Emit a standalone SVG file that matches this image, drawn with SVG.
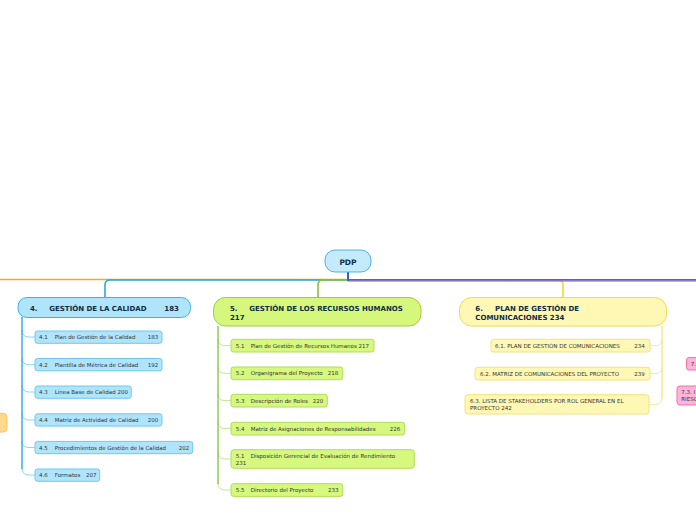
<svg xmlns="http://www.w3.org/2000/svg" width="696" height="520" viewBox="0 0 696 520">
<style>
text{font-family:"DejaVu Sans","Liberation Sans",sans-serif;}
.h{font-size:7px;font-weight:bold;fill:#0e2c48;}
.c{font-size:5.5px;fill:#333333;}
.b4{fill:#b0e4fa;stroke:#3db2ea;stroke-width:1;}
.b5{fill:#d4f77c;stroke:#9ccc40;stroke-width:1;}
.b6{fill:#fff7b4;stroke:#f0dc50;stroke-width:1;}
.c4{fill:#b0e4fa;stroke:#6cc8f2;stroke-width:1;}
.c5{fill:#d6f87e;stroke:#b0dc5a;stroke-width:1;}
.c6{fill:#fff7b4;stroke:#f5e27c;stroke-width:1;}
.pk{fill:#ffb4da;stroke:#f070b0;stroke-width:1;}
.ln{fill:none;stroke-linecap:round;}
</style>
<g id="connectors">
<path class="ln" d="M0,279.5 H348" stroke="#f5a623" stroke-width="1.6"/>
<path class="ln" d="M348,280 H110 Q105,280 105,285 V298" stroke="#29a8e0" stroke-width="1.6"/>
<path class="ln" d="M348,280 H323 Q318,280 318,285 V298" stroke="#86c440" stroke-width="1.6"/>
<path class="ln" d="M348,280 H558 Q563,280 563,285 V298" stroke="#f0d830" stroke-width="1.6"/>
<path class="ln" d="M348,280.8 H696" stroke="#8a4fc8" stroke-width="1.3"/>
<path class="ln" d="M348,279.6 H696" stroke="#2f6fe0" stroke-width="1.3"/>
<path class="ln" d="M348,272 V280" stroke="#2f5fd0" stroke-width="2"/>
<g stroke="#8fd6f5" stroke-width="1" fill="none">
<path d="M22,330 Q22,337 29,337 H35"/>
<path d="M22,358 Q22,364.7 29,364.7 H35"/>
<path d="M22,385 Q22,392 29,392 H35"/>
<path d="M22,413 Q22,420 29,420 H35"/>
<path d="M22,440.5 Q22,447.5 29,447.5 H35"/>
<path d="M22,468 Q22,475 29,475 H35"/>
</g>
<path d="M22,317 V469" stroke="#29aae1" stroke-width="1.4" fill="none"/>
<g stroke="#c4e894" stroke-width="1" fill="none">
<path d="M218,339 Q218,345.6 225,345.6 H231"/>
<path d="M218,367 Q218,373.3 225,373.3 H231"/>
<path d="M218,394 Q218,400.6 225,400.6 H231"/>
<path d="M218,422 Q218,428.6 225,428.6 H231"/>
<path d="M218,452 Q218,459 225,459 H231"/>
<path d="M218,483 Q218,490 225,490 H231"/>
</g>
<path d="M218,326 V484" stroke="#8cc640" stroke-width="1.4" fill="none"/>
<g stroke="#f8ea90" stroke-width="1" fill="none">
<path d="M662,339 Q662,345.6 656,345.6 H650"/>
<path d="M662,367 Q662,373.6 656,373.6 H650"/>
<path d="M662,397 Q662,404.3 656,404.3 H649"/>
</g>
<path d="M662,326 V398" stroke="#f5e36a" stroke-width="1.2" fill="none"/>
</g>
<g id="pdp">
<rect x="325" y="250" width="46" height="22" rx="10" fill="#c4ebfc" stroke="#4cb2e6" stroke-width="1"/>
<text x="348" y="264.5" text-anchor="middle" style="font-size:7.5px;font-weight:bold;fill:#0e2c48">PDP</text>
</g>
<g id="n4">
<rect class="b4" x="18" y="297.5" width="172.5" height="20" rx="9"/>
<text class="h" y="310.5"><tspan x="30">4.</tspan><tspan x="49.3">GESTIÓN DE LA CALIDAD</tspan><tspan x="164.3">183</tspan></text>
</g>
<g id="n5">
<rect class="b5" x="213.5" y="297.5" width="207.5" height="28.5" rx="12"/>
<text class="h" y="310.5"><tspan x="230">5.</tspan><tspan x="249.3">GESTIÓN DE LOS RECURSOS HUMANOS</tspan></text>
<text class="h" x="230" y="319.5">217</text>
</g>
<g id="n6">
<rect class="b6" x="459.5" y="297.5" width="207" height="28.5" rx="12"/>
<text class="h" y="310.5"><tspan x="475.3">6.</tspan><tspan x="495">PLAN DE GESTIÓN DE</tspan></text>
<text class="h" x="475.3" y="319.5">COMUNICACIONES 234</text>
</g>
<g id="n4-1"><rect class="c4" x="35" y="331" width="127" height="12.3" rx="2.5"/><text class="c" y="339"><tspan x="39">4.1</tspan><tspan x="54.7">Plan de Gestión de la Calidad</tspan><tspan x="147.7">183</tspan></text></g>
<g id="n4-2"><rect class="c4" x="35" y="358.5" width="127" height="12.3" rx="2.5"/><text class="c" y="366.6"><tspan x="39">4.2</tspan><tspan x="54.7">Plantilla de Métrica de Calidad</tspan><tspan x="147.7">192</tspan></text></g>
<g id="n4-3"><rect class="c4" x="35" y="386" width="96.3" height="12.3" rx="2.5"/><text class="c" y="394"><tspan x="39">4.3</tspan><tspan x="54.7">Línea Base de Calidad 200</tspan></text></g>
<g id="n4-4"><rect class="c4" x="35" y="413.8" width="127" height="12.3" rx="2.5"/><text class="c" y="421.9"><tspan x="39">4.4</tspan><tspan x="54.7">Matriz de Actividad de Calidad</tspan><tspan x="147.7">200</tspan></text></g>
<g id="n4-5"><rect class="c4" x="35" y="441.4" width="157.7" height="12.3" rx="2.5"/><text class="c" y="449.5"><tspan x="39">4.5</tspan><tspan x="54.7">Procedimientos de Gestión de la Calidad</tspan><tspan x="178.7">202</tspan></text></g>
<g id="n4-6"><rect class="c4" x="35" y="469" width="64.7" height="12.3" rx="2.5"/><text class="c" y="477.1"><tspan x="39">4.6</tspan><tspan x="54.7">Formatos</tspan><tspan x="86">207</tspan></text></g>
<g id="n5-1"><rect class="c5" x="231" y="339.3" width="143" height="12.7" rx="2.5"/><text class="c" y="347.6"><tspan x="235.7">5.1</tspan><tspan x="250.7">Plan de Gestión de Recursos Humanos 217</tspan></text></g>
<g id="n5-2"><rect class="c5" x="231" y="367" width="111.7" height="12.7" rx="2.5"/><text class="c" y="375.3"><tspan x="235.7">5.2</tspan><tspan x="250.7">Organigrama del Proyecto</tspan><tspan x="327.7">218</tspan></text></g>
<g id="n5-3"><rect class="c5" x="231" y="394.3" width="96.3" height="12.7" rx="2.5"/><text class="c" y="402.6"><tspan x="235.7">5.3</tspan><tspan x="250.7">Descripción de Roles</tspan><tspan x="312.7">220</tspan></text></g>
<g id="n5-4"><rect class="c5" x="231" y="422.3" width="173.7" height="12.7" rx="2.5"/><text class="c" y="430.6"><tspan x="235.7">5.4</tspan><tspan x="250.7">Matriz de Asignaciones de Responsabilidades</tspan><tspan x="389.7">226</tspan></text></g>
<g id="n5-1b"><rect class="c5" x="231" y="449.7" width="183.3" height="18.6" rx="3"/><text class="c" y="457.5"><tspan x="235.7">5.1</tspan><tspan x="250.7">Disposición Gerencial de Evaluación de Rendimiento</tspan></text><text class="c" x="235.7" y="464.8">231</text></g>
<g id="n5-5"><rect class="c5" x="231" y="483.7" width="111.7" height="12.7" rx="2.5"/><text class="c" y="492"><tspan x="235.7">5.5</tspan><tspan x="250.7">Directorio del Proyecto</tspan><tspan x="328">233</tspan></text></g>
<g id="n6-1"><rect class="c6" x="491" y="339.3" width="159" height="12.7" rx="2.5"/><text class="c" y="347.6"><tspan x="495">6.1. PLAN DE GESTIÓN DE COMUNICACIONES</tspan><tspan x="634.3">234</tspan></text></g>
<g id="n6-2"><rect class="c6" x="475" y="367.3" width="175" height="12.7" rx="2.5"/><text class="c" y="375.6"><tspan x="480">6.2. MATRIZ DE COMUNICACIONES DEL PROYECTO</tspan><tspan x="634.3">239</tspan></text></g>
<g id="n6-3"><rect class="c6" x="465" y="394.7" width="184" height="19.3" rx="3"/><text class="c" x="470" y="402.6">6.3. LISTA DE STAKEHOLDERS POR ROL GENERAL EN EL</text><text class="c" x="470" y="410">PROYECTO 242</text></g>
<g id="n3"><rect x="-10" y="413.3" width="17" height="18.7" rx="4" fill="#ffd98c" stroke="#f6c464" stroke-width="1"/></g>
<g id="n7-2"><rect class="pk" x="686.5" y="357.5" width="30" height="12.5" rx="2.5"/><text class="c" x="690.7" y="366">7.</text></g>
<g id="n7-3"><rect class="pk" x="677" y="386" width="40" height="19" rx="3"/><text class="c" x="681.3" y="394">7.3. I</text><text class="c" x="681.3" y="401">RIESG</text></g>
</svg>
